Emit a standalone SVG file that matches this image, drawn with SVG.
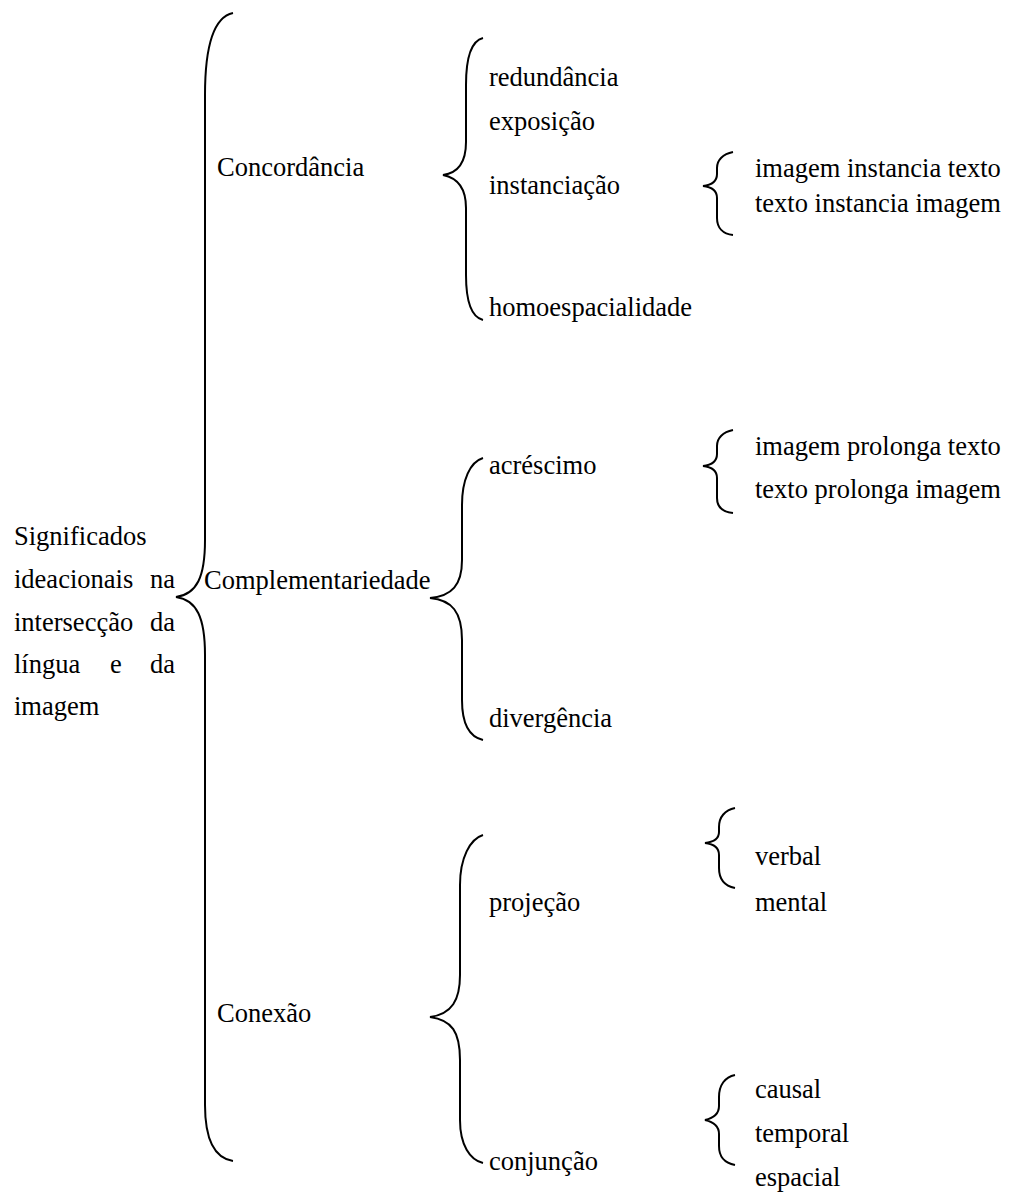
<svg xmlns="http://www.w3.org/2000/svg" width="1011" height="1194" viewBox="0 0 1011 1194">
<style>
text{font-family:"Liberation Serif","Times New Roman",serif;font-size:26.5px;fill:#000}
.b{fill:none;stroke:#000;stroke-width:2}
</style>
<rect width="1011" height="1194" fill="#fff"/>
<g id="connectors">
<path class="b" d="M233,13 C214,17 205,45 205,95 L205,540 C205,577 197,594 176,597 C197,600 205,618 205,655 L205,1105 C205,1140 214,1158 233,1161"/>
<path class="b" d="M483,38 C471,41 466,60 466,85 L466,142 C466,162 458,173 443,175 C458,178 466,188 466,208 L466,275 C466,300 471,317 483,320"/>
<path class="b" d="M483,458 C470,462 462,480 462,505 L462,560 C462,585 452,596 430,598 C452,600 462,612 462,640 L462,700 C462,725 470,737 483,740"/>
<path class="b" d="M483,835 C470,839 460,858 460,885 L460,975 C460,1000 452,1014 430,1017 C452,1020 460,1032 460,1060 L460,1120 C460,1145 470,1160 483,1163"/>
<path class="b" d="M733,152 C723,154 717,160 717,168 L717,174 C717,181 712,185 703,186 C712,187 717,191 717,198 L717,218 C717,228 723,234 733,235"/>
<path class="b" d="M733,430 C723,432 717,438 717,446 L717,454 C717,461 712,465 703,466 C712,467 717,471 717,478 L717,498 C717,507 723,512 733,513"/>
<path class="b" d="M735,808 C725,810 719,817 719,827 L719,832 C719,839 714,842 705,843 C714,844 719,848 719,855 L719,868 C719,880 725,886 735,888"/>
<path class="b" d="M735,1075 C725,1077 719,1085 719,1097 L719,1106 C719,1114 714,1118 705,1120 C714,1122 719,1126 719,1134 L719,1146 C719,1158 725,1163 735,1165"/>
</g>
<g id="root">
<text x="14" y="545">Significados</text>
<text x="14" y="588">ideacionais</text><text x="175" y="588" text-anchor="end">na</text>
<text x="14" y="631">intersecção</text><text x="175" y="631" text-anchor="end">da</text>
<text x="14" y="673">língua</text><text x="110" y="673">e</text><text x="175" y="673" text-anchor="end">da</text>
<text x="14" y="715">imagem</text>
</g>
<g id="concordancia"><text x="217" y="176">Concordância</text></g>
<g id="complementariedade"><text x="204" y="589">Complementariedade</text></g>
<g id="conexao"><text x="217" y="1022">Conexão</text></g>
<g id="redundancia"><text x="489" y="86">redundância</text></g>
<g id="exposicao"><text x="489" y="130">exposição</text></g>
<g id="instanciacao"><text x="489" y="194">instanciação</text></g>
<g id="homoespacialidade"><text x="489" y="316">homoespacialidade</text></g>
<g id="imagem-instancia-texto"><text x="755" y="177">imagem instancia texto</text></g>
<g id="texto-instancia-imagem"><text x="755" y="212">texto instancia imagem</text></g>
<g id="acrescimo"><text x="489" y="474">acréscimo</text></g>
<g id="imagem-prolonga-texto"><text x="755" y="455">imagem prolonga texto</text></g>
<g id="texto-prolonga-imagem"><text x="755" y="498">texto prolonga imagem</text></g>
<g id="divergencia"><text x="489" y="727">divergência</text></g>
<g id="projecao"><text x="489" y="911">projeção</text></g>
<g id="verbal"><text x="755" y="865">verbal</text></g>
<g id="mental"><text x="755" y="911">mental</text></g>
<g id="conjuncao"><text x="489" y="1170">conjunção</text></g>
<g id="causal"><text x="755" y="1098">causal</text></g>
<g id="temporal"><text x="755" y="1142">temporal</text></g>
<g id="espacial"><text x="755" y="1186">espacial</text></g>
</svg>
